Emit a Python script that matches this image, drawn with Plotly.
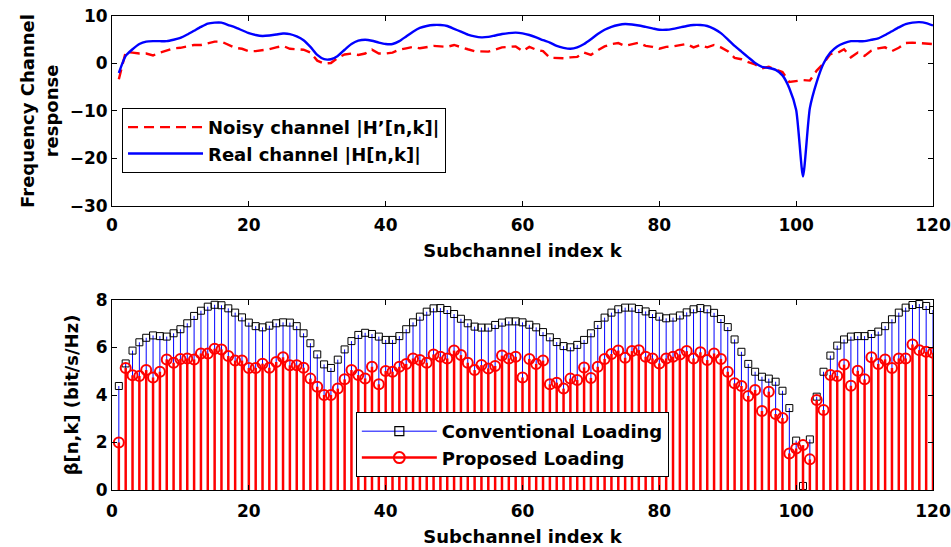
import plotly.graph_objects as go

# Subchannel indices
subchannels = list(range(1, 121))

# Real channel |H[n,k]| (dB)
real_channel = [
    -2.0, 1.6, 3.0, 4.1, 4.6, 4.7, 4.7, 4.7, 5.0, 5.4,
    6.1, 6.9, 7.7, 8.4, 8.6, 8.6, 8.1, 7.6, 7.0, 6.4,
    6.0, 5.8, 5.9, 6.1, 6.3, 6.2, 5.7, 4.9, 3.5, 1.8,
    0.9, 0.9, 1.6, 2.9, 4.1, 4.8, 5.0, 4.8, 4.4, 4.1,
    4.1, 4.7, 5.7, 6.7, 7.5, 7.9, 8.1, 8.1, 7.9, 7.3,
    6.7, 6.1, 5.7, 5.5, 5.6, 5.9, 6.2, 6.4, 6.5, 6.35,
    6.0, 5.5, 4.9, 4.4, 3.7, 3.3, 3.1, 3.4, 4.1, 5.1,
    6.2, 7.1, 7.7, 8.1, 8.3, 8.2, 8.0, 7.7, 7.4, 7.1,
    7.1, 7.3, 7.6, 7.9, 8.1, 8.1, 7.9, 7.3, 6.4, 5.1,
    3.7, 2.5, 1.3, 0.1, -0.7, -0.95, -1.35, -2.5, -5.2, -9.8,
    -23.8, -9.4, -3.9, 0.0, 2.3, 3.6, 4.3, 4.7, 4.7, 4.7,
    5.0, 5.3, 6.0, 6.8, 7.6, 8.3, 8.6, 8.7, 8.5, 8.0,
]

# Noisy channel estimate |H'[n,k]| (dB)
noisy_channel = [
    -3.3, 2.4, 2.3, 2.1, 2.1, 1.7, 2.3, 2.8, 3.2, 3.3,
    3.6, 3.9, 3.9, 4.3, 4.6, 4.6, 3.9, 3.3, 3.1, 2.6,
    2.6, 2.8, 3.0, 3.4, 3.7, 3.1, 3.0, 2.9, 2.3, 0.6,
    0.0, 0.1, 1.2, 1.9, 2.1, 1.8, 2.1, 2.9, 2.1, 2.1,
    2.3, 2.9, 3.2, 3.5, 3.2, 3.4, 3.7, 3.6, 3.5, 3.9,
    3.4, 3.0, 2.6, 2.6, 2.5, 2.9, 3.4, 3.5, 3.6, 2.6,
    3.5, 2.9, 2.6, 1.2, 1.1, 1.1, 1.3, 1.4, 2.3, 1.8,
    2.8, 3.6, 4.1, 4.3, 3.7, 4.1, 4.4, 3.7, 3.5, 3.1,
    3.5, 3.6, 3.9, 4.1, 3.4, 3.9, 3.4, 3.9, 3.4, 2.6,
    1.2, 0.9, 0.3, -0.2, -1.0, -0.7, -1.3, -1.8, -3.9, -3.7,
    -3.5, -3.6, -1.5, 0.0, 2.0, 2.2, 3.0, 1.3, 2.3, 1.6,
    2.7, 3.2, 3.4, 2.6, 3.3, 4.3, 4.4, 4.3, 4.2, 4.1,
]

# Bit loading (bit/s/Hz) per subchannel
conventional_loading = [
    4.38, 5.33, 5.87, 6.22, 6.41, 6.51, 6.48, 6.46, 6.60, 6.77,
    7.02, 7.33, 7.55, 7.72, 7.80, 7.78, 7.65, 7.47, 7.27, 7.05,
    6.90, 6.85, 6.92, 7.02, 7.06, 7.05, 6.90, 6.60, 6.18, 5.71,
    5.29, 5.14, 5.49, 5.92, 6.27, 6.53, 6.62, 6.57, 6.46, 6.32,
    6.32, 6.48, 6.77, 7.06, 7.30, 7.51, 7.65, 7.66, 7.58, 7.41,
    7.21, 7.02, 6.88, 6.84, 6.84, 6.95, 7.05, 7.10, 7.10, 7.06,
    6.96, 6.85, 6.65, 6.43, 6.23, 6.06, 6.01, 6.11, 6.32, 6.60,
    6.95, 7.26, 7.47, 7.61, 7.68, 7.68, 7.62, 7.52, 7.41, 7.30,
    7.23, 7.26, 7.35, 7.48, 7.61, 7.66, 7.61, 7.46, 7.20, 6.86,
    6.34, 5.82, 5.31, 4.98, 4.77, 4.69, 4.56, 4.18, 3.45, 2.08,
    0.17, 2.13, 3.93, 4.98, 5.66, 6.08, 6.34, 6.46, 6.48, 6.48,
    6.57, 6.67, 6.90, 7.19, 7.47, 7.68, 7.79, 7.83, 7.75, 7.58,
]

proposed_loading = [
    2.00, 5.14, 4.83, 4.80, 5.05, 4.74, 4.98, 5.50, 5.36, 5.52,
    5.54, 5.50, 5.75, 5.75, 5.95, 5.92, 5.64, 5.45, 5.45, 5.14,
    5.14, 5.32, 5.15, 5.39, 5.59, 5.25, 5.25, 5.15, 4.69, 4.35,
    4.00, 4.00, 4.27, 4.66, 5.05, 4.84, 4.70, 5.19, 4.45, 5.01,
    4.98, 5.19, 5.31, 5.54, 5.47, 5.36, 5.71, 5.61, 5.54, 5.87,
    5.68, 5.36, 5.05, 5.26, 5.12, 5.22, 5.66, 5.54, 5.61, 4.74,
    5.52, 5.31, 5.45, 4.45, 4.52, 4.27, 4.69, 4.63, 5.16, 4.72,
    5.19, 5.52, 5.73, 5.87, 5.57, 5.85, 5.89, 5.61, 5.54, 5.33,
    5.54, 5.61, 5.71, 5.85, 5.54, 5.80, 5.47, 5.75, 5.52, 4.98,
    4.49, 4.38, 3.96, 4.21, 3.33, 4.14, 3.20, 3.03, 1.54, 1.75,
    1.89, 1.29, 3.79, 3.37, 4.84, 4.80, 5.28, 4.39, 5.02, 4.66,
    5.59, 5.31, 5.50, 5.14, 5.54, 5.54, 6.13, 5.89, 5.82, 5.78,
]

x_ticks = [0, 20, 40, 60, 80, 100, 120]
top_y_ticks = [-30, -20, -10, 0, 10]
bottom_y_ticks = [0, 2, 4, 6, 8]

FONT = "DejaVu Sans"
BLUE = "#0000ff"
RED = "#ff0000"

fig = go.Figure()

# --- upper panel: channel responses ---
fig.add_trace(go.Scatter(
    x=subchannels, y=noisy_channel, mode="lines",
    name="Noisy channel |H\u2019[n,k]|",
    line=dict(color=RED, width=2.4, dash="10px,6px"),
    xaxis="x", yaxis="y", legend="legend",
))
fig.add_trace(go.Scatter(
    x=subchannels, y=real_channel, mode="lines",
    name="Real channel |H[n,k]|",
    line=dict(color=BLUE, width=2.4, shape="spline", smoothing=0.6),
    xaxis="x", yaxis="y", legend="legend",
))

# --- lower panel: stem plots of bit loading ---
zeros = [0] * len(subchannels)
fig.add_trace(go.Scatter(
    x=subchannels, y=conventional_loading, mode="markers",
    marker=dict(symbol="square-open", size=7, color="black",
                line=dict(width=1, color="black")),
    error_y=dict(type="data", symmetric=False, array=zeros,
                 arrayminus=conventional_loading, color=BLUE,
                 thickness=1, width=0),
    showlegend=False, xaxis="x2", yaxis="y2",
))
fig.add_trace(go.Scatter(
    x=subchannels, y=proposed_loading, mode="markers",
    marker=dict(symbol="circle-open", size=10, color=RED,
                line=dict(width=2, color=RED)),
    error_y=dict(type="data", symmetric=False, array=zeros,
                 arrayminus=proposed_loading, color=RED,
                 thickness=2.5, width=0),
    showlegend=False, xaxis="x2", yaxis="y2",
))
# legend entries (line + marker) for the stem series
fig.add_trace(go.Scatter(
    x=[None], y=[None], mode="lines+markers", name="Conventional Loading",
    line=dict(color=BLUE, width=1),
    marker=dict(symbol="square-open", size=9, color="black",
                line=dict(width=1.2, color="black")),
    xaxis="x2", yaxis="y2", legend="legend2",
))
fig.add_trace(go.Scatter(
    x=[None], y=[None], mode="lines+markers", name="Proposed Loading",
    line=dict(color=RED, width=2.5),
    marker=dict(symbol="circle-open", size=11, color=RED,
                line=dict(width=2, color=RED)),
    xaxis="x2", yaxis="y2", legend="legend2",
))

tick_font = dict(family=FONT, size=17, color="black", weight="bold")
title_font = dict(family=FONT, size=18, color="black", weight="bold")
legend_font = dict(family=FONT, size=18, color="black", weight="bold")

axis_common = dict(
    showline=True, linecolor="black", linewidth=1, mirror="ticks",
    ticks="inside", ticklen=5, tickcolor="black", tickwidth=1,
    showgrid=False, zeroline=False, tickfont=tick_font, automargin=False,
)

fig.update_layout(
    width=951, height=547,
    margin=dict(l=112, r=18, t=16, b=57),
    paper_bgcolor="white", plot_bgcolor="white",
    xaxis=dict(domain=[0, 1], anchor="y", range=[0, 120], tickvals=x_ticks,
               ticklabelstandoff=4,
               title=dict(text="Subchannel index k", font=title_font, standoff=10),
               **axis_common),
    yaxis=dict(domain=[0.5992, 1], anchor="x", range=[-30, 10],
               tickvals=top_y_ticks,
               title=dict(text="Frequency Channel<br>response", font=title_font,
                          standoff=6),
               **axis_common),
    xaxis2=dict(domain=[0, 1], anchor="y2", range=[0, 120], tickvals=x_ticks,
                ticklabelstandoff=6,
                title=dict(text="Subchannel index k", font=title_font, standoff=9),
                **axis_common),
    yaxis2=dict(domain=[0, 0.4008], anchor="x2", range=[0, 8],
                tickvals=bottom_y_ticks,
                title=dict(text="\u03b2[n,k] (bit/s/Hz)", font=title_font,
                           standoff=12),
                **axis_common),
    legend=dict(x=0.0122, y=0.806, xanchor="left", yanchor="top",
                bgcolor="white", bordercolor="black", borderwidth=1,
                itemwidth=75, font=legend_font),
    legend2=dict(x=0.297, y=0.1646, xanchor="left", yanchor="top",
                 bgcolor="white", bordercolor="black", borderwidth=1,
                 itemwidth=75, font=legend_font),
)

fig.write_html("out.html")
